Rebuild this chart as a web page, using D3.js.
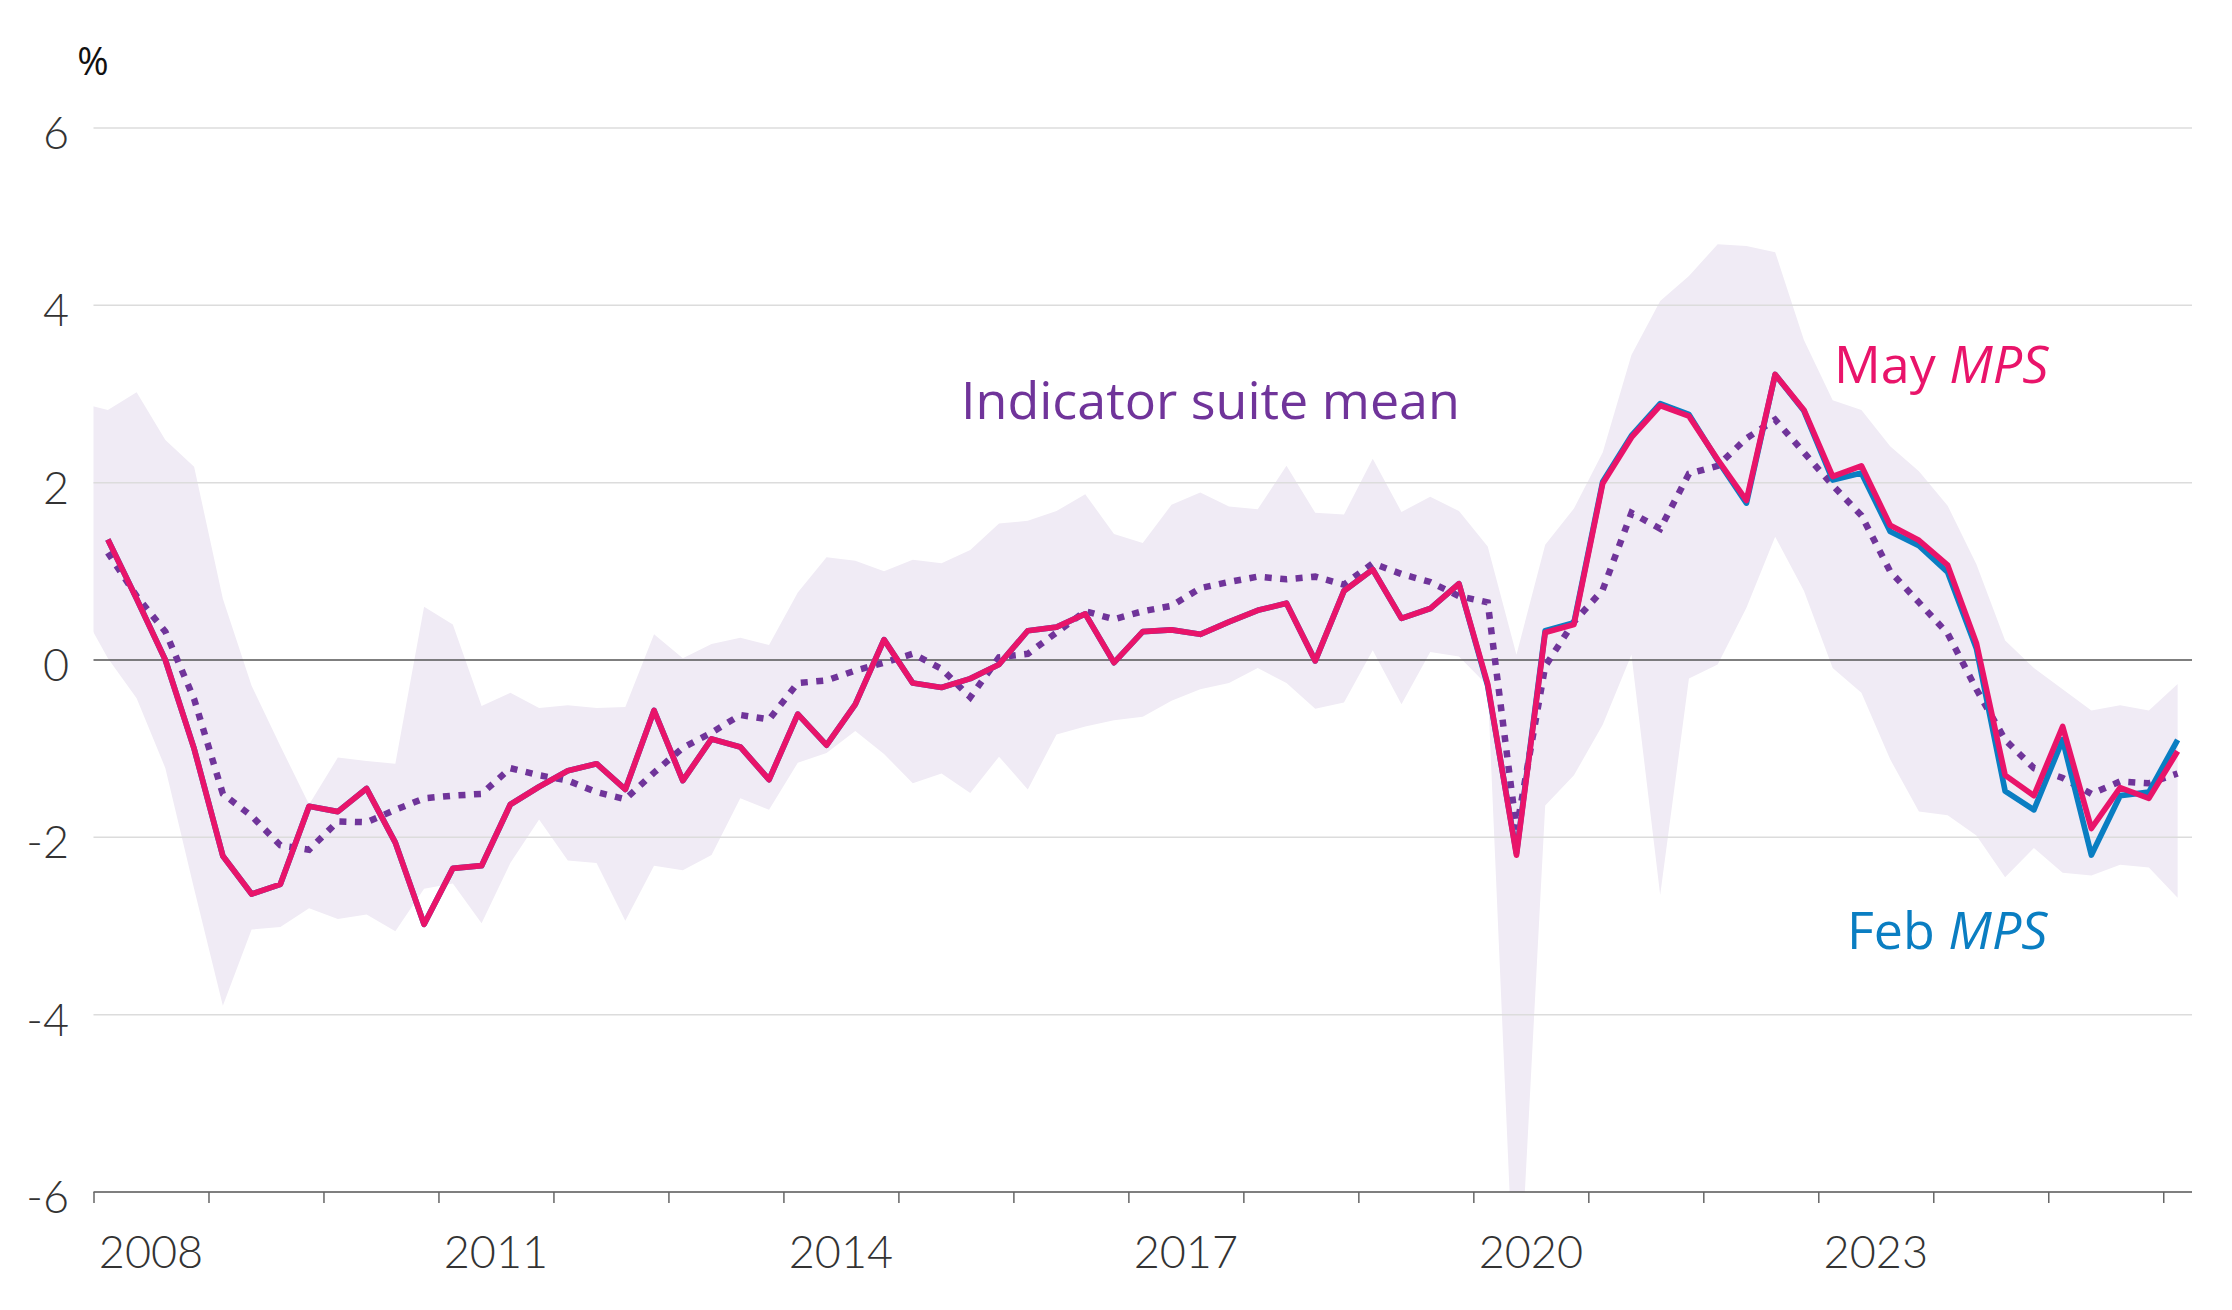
<!DOCTYPE html>
<html>
<head>
<meta charset="utf-8">
<script src="https://cdn.jsdelivr.net/npm/d3@7/dist/d3.min.js"></script>
<style>
  body { margin: 0; background: #ffffff; }
  svg text { font-family: "Open Sans", "Noto Sans", sans-serif; }
  svg text.tick-label { font-family: "Lato", "Open Sans", sans-serif; }
</style>
</head>
<body>
<div id="chartHolder"></div>
<script>
// quarterly data, 2008 Q1 .. 2026 Q1
var quarters = d3.range(73).map(function (i) {
  return (2008 + Math.floor(i / 4)) + " Q" + ((i % 4) + 1);
});
// the range band starts one quarter earlier (clipped at the axis)
var bandQuarters = ["2007 Q4"].concat(quarters);

var mayMPS = [
  1.36, 0.69, 0.0, -1.0, -2.21, -2.64, -2.53, -1.65, -1.71, -1.45, -2.06, -2.98, -2.35, -2.32,
  -1.63, -1.43, -1.25, -1.17, -1.46, -0.57, -1.36, -0.89, -0.98, -1.35, -0.61, -0.96, -0.50, 0.23,
  -0.26, -0.31, -0.21, -0.05, 0.33, 0.37, 0.52, -0.03, 0.32, 0.34, 0.29, 0.43, 0.56, 0.64,
  -0.01, 0.78, 1.02, 0.47, 0.58, 0.86, -0.27, -2.20, 0.31, 0.40, 1.99, 2.51, 2.87,
  2.75, 2.26, 1.80, 3.22, 2.82, 2.07, 2.19, 1.52, 1.35, 1.07, 0.19, -1.30, -1.53, -0.75, -1.90, -1.44, -1.56, -1.03
];
var febMPS = [
  1.36, 0.69, 0.0, -1.0, -2.21, -2.64, -2.53, -1.65, -1.71, -1.45, -2.06, -2.98, -2.35, -2.32,
  -1.63, -1.43, -1.25, -1.17, -1.46, -0.57, -1.36, -0.89, -0.98, -1.35, -0.61, -0.96, -0.50, 0.23,
  -0.26, -0.31, -0.21, -0.05, 0.33, 0.37, 0.52, -0.03, 0.32, 0.34, 0.29, 0.43, 0.56, 0.64,
  -0.01, 0.78, 1.02, 0.47, 0.58, 0.86, -0.29, -2.18, 0.33, 0.42, 2.01, 2.53, 2.89,
  2.77, 2.25, 1.77, 3.22, 2.81, 2.03, 2.11, 1.45, 1.29, 0.99, 0.13, -1.48, -1.69, -0.90, -2.20, -1.53, -1.49, -0.90
];
var suiteMean = [
  1.21, 0.72, 0.32, -0.44, -1.51, -1.76, -2.09, -2.14, -1.82, -1.83, -1.69, -1.56, -1.53, -1.51,
  -1.22, -1.30, -1.36, -1.49, -1.57, -1.27, -0.99, -0.82, -0.62, -0.67, -0.26, -0.23, -0.12, -0.03,
  0.07, -0.10, -0.42, 0.03, 0.07, 0.31, 0.55, 0.46, 0.55, 0.61, 0.81, 0.88, 0.94, 0.91,
  0.94, 0.85, 1.09, 0.97, 0.88, 0.72, 0.65, -1.91, -0.07, 0.43, 0.79, 1.66, 1.48,
  2.10, 2.19, 2.50, 2.71, 2.34, 1.97, 1.63, 1.00, 0.65, 0.30, -0.33, -0.90, -1.22, -1.33, -1.51, -1.37, -1.39, -1.28
];
var bandUpper = [
  2.90,
  2.82, 3.02, 2.48, 2.18, 0.69, -0.29, -0.97, -1.63, -1.10, -1.14, -1.17, 0.60, 0.40, -0.52,
  -0.37, -0.54, -0.51, -0.54, -0.53, 0.29, 0.02, 0.18, 0.25, 0.17, 0.76, 1.16, 1.12, 1.00,
  1.13, 1.09, 1.24, 1.54, 1.57, 1.68, 1.87, 1.42, 1.32, 1.75, 1.89, 1.73, 1.70, 2.19,
  1.66, 1.64, 2.27, 1.67, 1.84, 1.68, 1.28, 0.06, 1.30, 1.71, 2.34, 3.44, 4.05,
  4.33, 4.69, 4.67, 4.60, 3.61, 2.93, 2.82, 2.41, 2.13, 1.74, 1.08, 0.22, -0.09, -0.33, -0.57, -0.51, -0.57, -0.27
];
var bandLower = [
  0.60,
  0.02, -0.43, -1.22, -2.58, -3.90, -3.04, -3.01, -2.80, -2.92, -2.87, -3.06, -2.58, -2.52, -2.97,
  -2.29, -1.80, -2.26, -2.29, -2.94, -2.32, -2.37, -2.20, -1.56, -1.69, -1.16, -1.05, -0.80, -1.06,
  -1.39, -1.28, -1.50, -1.09, -1.46, -0.84, -0.75, -0.68, -0.64, -0.46, -0.33, -0.26, -0.09, -0.26,
  -0.55, -0.48, 0.11, -0.50, 0.09, 0.04, -0.29, -7.80, -1.64, -1.30, -0.73, 0.06, -2.65,
  -0.21, -0.05, 0.59, 1.39, 0.78, -0.09, -0.37, -1.12, -1.71, -1.75, -1.98, -2.45, -2.12, -2.40, -2.43, -2.31, -2.34, -2.68
];

var yTicks = [-6, -4, -2, 0, 2, 4, 6];
var yearTicks = d3.range(2008, 2027);
var yearLabels = [2008, 2011, 2014, 2017, 2020, 2023];

var colors = { may: "#e9146a", feb: "#0a7ec2", mean: "#70349a", band: "#f0ebf5" };

// quarter label -> decimal year at the middle of the quarter
function qTime(q) {
  var p = q.split(" Q");
  return +p[0] + (+p[1] - 1) / 4 + 0.125;
}

function makeChart() {
  var width = 2232, height = 1310;
  var margin = { top: 128, right: 40, bottom: 118, left: 93.5 };

  var svg = d3
    .select("#chartHolder")
    .append("svg")
    .attr("width", width)
    .attr("height", height);

  var x = d3
    .scaleLinear()
    .domain([2008, 2026.25])
    .range([margin.left, width - margin.right]);

  var y = d3
    .scaleLinear()
    .domain([-6, 6])
    .range([height - margin.bottom, margin.top]);

  svg.append("clipPath")
    .attr("id", "plotClip")
    .append("rect")
    .attr("x", x(2008))
    .attr("y", y(6) - 10)
    .attr("width", x(2026.25) - x(2008))
    .attr("height", y(-6) - y(6) + 10);

  // range of indicators
  var bandData = bandQuarters.map(function (q, i) {
    return { t: qTime(q), lo: bandLower[i], hi: bandUpper[i] };
  });
  svg.append("path")
    .datum(bandData)
    .attr("clip-path", "url(#plotClip)")
    .attr("fill", colors.band)
    .attr("d", d3.area()
      .x(function (d) { return x(d.t); })
      .y0(function (d) { return y(d.lo); })
      .y1(function (d) { return y(d.hi); }));

  // gridlines
  svg.append("g")
    .selectAll("line")
    .data(yTicks.filter(function (d) { return d !== -6; }))
    .enter()
    .append("line")
    .attr("x1", x(2008))
    .attr("x2", x(2026.25))
    .attr("y1", function (d) { return y(d); })
    .attr("y2", function (d) { return y(d); })
    .attr("stroke", function (d) { return d === 0 ? "#555555" : "#dcdcdc"; })
    .attr("stroke-width", function (d) { return d === 0 ? 1.6 : 1.5; });

  // y labels
  svg.append("g")
    .selectAll("text")
    .data(yTicks)
    .enter()
    .append("text")
    .attr("class", "tick-label")
    .attr("x", 69)
    .attr("y", function (d) { return y(d) + 21; })
    .attr("text-anchor", "end")
    .attr("font-size", 45)
    .attr("font-weight", 300)
    .attr("fill", "#333333")
    .text(function (d) { return d; });

  svg.append("text")
    .attr("x", 93)
    .attr("y", 75)
    .attr("text-anchor", "middle")
    .attr("font-size", 38)
    .attr("fill", "#111111")
    .text("%");

  // x axis
  var xAxis = svg.append("g")
    .attr("transform", "translate(0," + y(-6) + ")")
    .call(d3.axisBottom(x).tickValues(yearTicks).tickSize(11).tickFormat(""));
  xAxis.select(".domain")
    .attr("stroke", "#555555")
    .attr("stroke-width", 1.6)
    .attr("d", "M" + x(2008) + ",0H" + x(2026.25));
  xAxis.selectAll(".tick line").attr("stroke", "#666666").attr("stroke-width", 1.5);

  svg.append("g")
    .selectAll("text")
    .data(yearLabels)
    .enter()
    .append("text")
    .attr("class", "tick-label")
    .attr("x", function (d) { return x(d + 0.5); })
    .attr("y", y(-6) + 76)
    .attr("text-anchor", "middle")
    .attr("font-size", 45)
    .attr("font-weight", 300)
    .attr("fill", "#333333")
    .text(function (d) { return d; });

  var line = d3.line()
    .x(function (d) { return x(d.t); })
    .y(function (d) { return y(d.v); });

  function series(values) {
    return quarters.map(function (q, i) { return { t: qTime(q), v: values[i] }; });
  }

  svg.append("path")
    .datum(series(suiteMean))
    .attr("fill", "none")
    .attr("stroke", colors.mean)
    .attr("stroke-width", 6.5)
    .attr("stroke-dasharray", "7 8.5")
    .attr("d", line);

  svg.append("path")
    .datum(series(febMPS))
    .attr("fill", "none")
    .attr("stroke", colors.feb)
    .attr("stroke-width", 5.7)
    .attr("stroke-linejoin", "round")
    .attr("d", line);

  svg.append("path")
    .datum(series(mayMPS))
    .attr("fill", "none")
    .attr("stroke", colors.may)
    .attr("stroke-width", 5.7)
    .attr("stroke-linejoin", "round")
    .attr("d", line);

  // series labels
  svg.append("text")
    .attr("x", 961)
    .attr("y", 419)
    .attr("font-size", 52)
    .attr("fill", colors.mean)
    .text("Indicator suite mean");

  var may = svg.append("text")
    .attr("x", 1834)
    .attr("y", 383)
    .attr("font-size", 52)
    .attr("fill", colors.may);
  may.append("tspan").text("May ");
  may.append("tspan").attr("font-style", "italic").text("MPS");

  var feb = svg.append("text")
    .attr("x", 1847)
    .attr("y", 949)
    .attr("font-size", 52)
    .attr("fill", colors.feb);
  feb.append("tspan").text("Feb ");
  feb.append("tspan").attr("font-style", "italic").text("MPS");
}

makeChart();
</script>
</body>
</html>
